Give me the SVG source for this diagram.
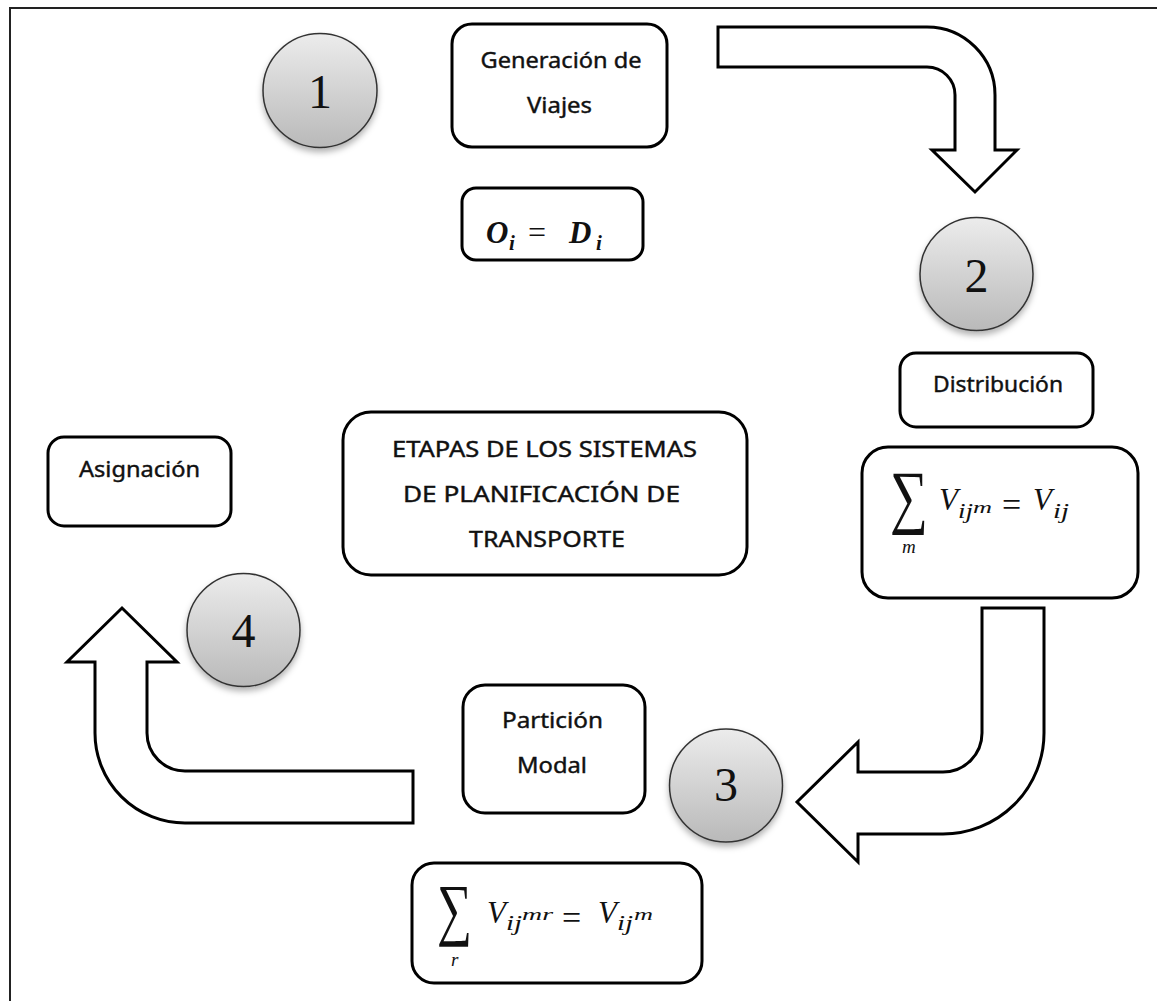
<svg xmlns="http://www.w3.org/2000/svg" width="1157" height="1001" viewBox="0 0 1157 1001">
<defs>
  <linearGradient id="ballGrad" x1="0" y1="0" x2="0" y2="1">
    <stop offset="0" stop-color="#ececec"/>
    <stop offset="1" stop-color="#b9b9b9"/>
  </linearGradient>
  <filter id="shadow" x="-30%" y="-30%" width="160%" height="170%">
    <feDropShadow dx="0" dy="4" stdDeviation="3" flood-color="#000" flood-opacity="0.3"/>
  </filter>
</defs>
<style>
  .box { fill: #fff; stroke: #000; stroke-width: 3; }
  .ball { fill: url(#ballGrad); stroke: #333; stroke-width: 1.5; filter: url(#shadow); }
  .num { font-family: "Liberation Serif", serif; font-size: 48px; fill: #111; text-anchor: middle; }
  .lbl { font-family: "Noto Sans", sans-serif; font-size: 21px; fill: #111; stroke: #111; stroke-width: 0.4; text-anchor: middle; }
  .math { font-family: "Liberation Serif", serif; font-style: italic; fill: #111; }
  .up { font-style: normal; }
  .arrow { fill: #fff; stroke: #000; stroke-width: 3; stroke-linejoin: miter; }
  .frame { stroke: #222; stroke-width: 2; fill: none; }
</style>
<rect width="1157" height="1001" fill="#fff"/>
<path class="frame" d="M10,1001 V8 H1157"/>

<g id="connectors">
  <path class="arrow" d="M718,27 H927 A68,68 0 0 1 995,95 V150 H1017 L975,192 L932,150 H955 V95 A28,28 0 0 0 927,67 H718 Z"/>
  <path class="arrow" d="M982,608 H1044 V733 A101,101 0 0 1 943,834 H858 V862 L797,802 L858,742 V772 H943 A39,39 0 0 0 982,733 Z"/>
  <path class="arrow" d="M413,771 H185 A38,38 0 0 1 147,733 V662 H177 L122,608 L67,662 H95 V733 A90,90 0 0 0 185,823 H413 Z"/>
</g>

<g id="step1">
  <circle class="ball" cx="320" cy="90.5" r="57"/>
  <text class="num" x="320" y="108">1</text>
</g>
<g id="step2">
  <circle class="ball" cx="976.5" cy="274" r="56.5"/>
  <text class="num" x="976.5" y="292">2</text>
</g>
<g id="step3">
  <circle class="ball" cx="726" cy="785.5" r="56.5"/>
  <text class="num" x="726" y="801">3</text>
</g>
<g id="step4">
  <circle class="ball" cx="243.5" cy="630" r="56.5"/>
  <text class="num" x="243.5" y="647">4</text>
</g>

<g id="generacion">
  <rect class="box" x="452" y="24" width="215" height="123" rx="20"/>
  <text class="lbl" x="561" y="68" textLength="161" lengthAdjust="spacingAndGlyphs">Generación de</text>
  <text class="lbl" x="559.5" y="113" textLength="65" lengthAdjust="spacingAndGlyphs">Viajes</text>
</g>

<g id="formula-od">
  <rect class="box" x="462" y="188" width="181" height="72" rx="14"/>
  <text class="math" font-weight="bold" font-size="31" x="486" y="243">O</text>
  <text class="math" font-weight="bold" font-size="21" x="509" y="250">i</text>
  <text class="math up" font-size="32" x="528" y="243">=</text>
  <text class="math" font-weight="bold" font-size="31" x="569" y="243">D</text>
  <text class="math" font-weight="bold" font-size="21" x="596" y="250">i</text>
</g>

<g id="distribucion">
  <rect class="box" x="900" y="353" width="193" height="74" rx="16"/>
  <text class="lbl" x="998" y="392" textLength="130" lengthAdjust="spacingAndGlyphs">Distribución</text>
</g>

<g id="formula-dist">
  <rect class="box" x="862" y="447" width="276" height="151" rx="26"/>
  <text class="math up" font-size="71" x="890" y="520" textLength="38" lengthAdjust="spacingAndGlyphs">∑</text>
  <text class="math" font-size="19" x="902" y="553">m</text>
  <text class="math" font-size="31" x="939" y="510">V</text>
  <text class="math" font-size="20" x="958" y="518" textLength="15" lengthAdjust="spacingAndGlyphs">ij</text>
  <text class="math" font-size="17" x="973" y="513" textLength="19" lengthAdjust="spacingAndGlyphs">m</text>
  <text class="math up" font-size="34" x="1002" y="516">=</text>
  <text class="math" font-size="31" x="1033" y="510">V</text>
  <text class="math" font-size="20" x="1053" y="518" textLength="16" lengthAdjust="spacingAndGlyphs">ij</text>
</g>

<g id="titulo">
  <rect class="box" x="343" y="412" width="404" height="163" rx="28"/>
  <text class="lbl" x="544.5" y="457" textLength="305" lengthAdjust="spacingAndGlyphs">ETAPAS DE LOS SISTEMAS</text>
  <text class="lbl" x="541.5" y="502" textLength="277" lengthAdjust="spacingAndGlyphs">DE PLANIFICACIÓN DE</text>
  <text class="lbl" x="547" y="547" textLength="156" lengthAdjust="spacingAndGlyphs">TRANSPORTE</text>
</g>

<g id="asignacion">
  <rect class="box" x="48" y="437" width="183" height="89" rx="16"/>
  <text class="lbl" x="139.5" y="477" textLength="121" lengthAdjust="spacingAndGlyphs">Asignación</text>
</g>

<g id="particion">
  <rect class="box" x="463" y="685" width="182" height="128" rx="22"/>
  <text class="lbl" x="552.5" y="728" textLength="101" lengthAdjust="spacingAndGlyphs">Partición</text>
  <text class="lbl" x="552" y="773" textLength="70" lengthAdjust="spacingAndGlyphs">Modal</text>
</g>

<g id="formula-part">
  <rect class="box" x="412" y="863" width="290" height="120" rx="22"/>
  <text class="math up" font-size="69" x="437" y="932" textLength="35" lengthAdjust="spacingAndGlyphs">∑</text>
  <text class="math" font-size="19" x="451" y="966">r</text>
  <text class="math" font-size="31" x="487" y="923">V</text>
  <text class="math" font-size="20" x="506" y="930" textLength="16" lengthAdjust="spacingAndGlyphs">ij</text>
  <text class="math" font-size="17" x="522" y="920" textLength="31" lengthAdjust="spacingAndGlyphs">mr</text>
  <text class="math up" font-size="34" x="562" y="929">=</text>
  <text class="math" font-size="31" x="598" y="923">V</text>
  <text class="math" font-size="20" x="617" y="930" textLength="16" lengthAdjust="spacingAndGlyphs">ij</text>
  <text class="math" font-size="17" x="634" y="920" textLength="19" lengthAdjust="spacingAndGlyphs">m</text>
</g>
</svg>
